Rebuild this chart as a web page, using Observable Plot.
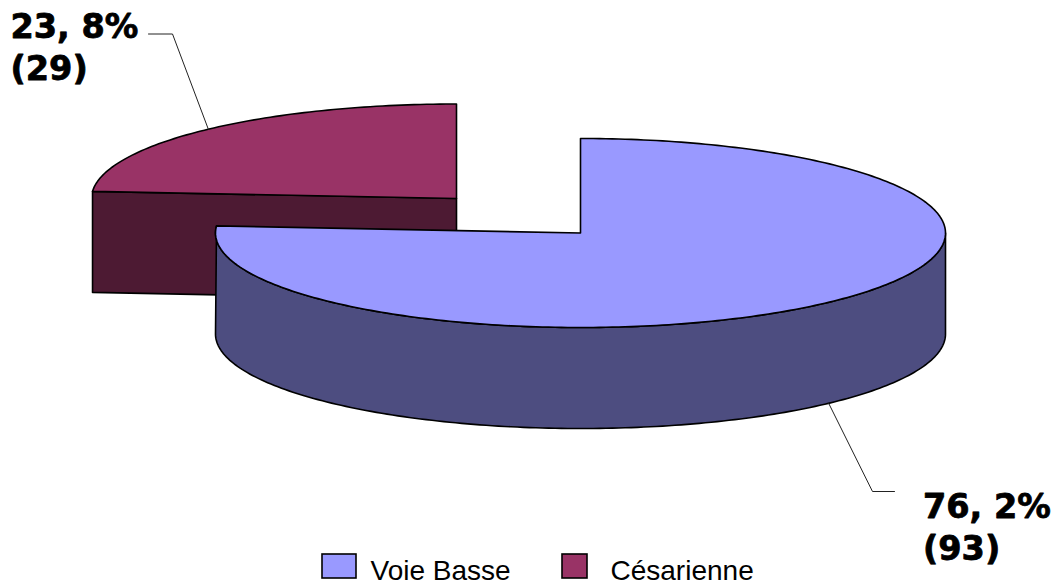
<!DOCTYPE html>
<html>
<head>
<meta charset="utf-8">
<script src="https://cdn.jsdelivr.net/npm/d3@7"></script>
<script src="https://cdn.jsdelivr.net/npm/@observablehq/plot@0.6"></script>
<style>
  html, body { margin: 0; padding: 0; background: #fff; }
  svg { display: block; }
</style>
</head>
<body>
<div id="chart"></div>
<script>
// Delivery mode shares and counts
const categories = ["Voie Basse", "Césarienne"];
const percents = [76.2, 23.8];
const counts = [93, 29];
const topColors = ["#9999ff", "#993366"];
const wallColors = ["#4d4d80", "#4d1a33"];

// Pie layout: each slice is exploded around its own centre
const rx = 365, ry = 94.5, depth = 101;
const centers = [[580, 232.5], [456, 198]];
const leaderBends = [[[872, 491], [894, 491]], [[172, 33.5], [148, 33.5]]];
const labelAnchors = [[922.5, 517], [10, 37]];
const labelLeading = 42;
const swatches = [[322, 356], [562, 587]];
const legendText = [370, 610];

const sweep = percents.map((p) => (p / 100) * 360);
// Slice angular ranges, in degrees clockwise from twelve o'clock
const ranges = [[0, sweep[0]], [360 - sweep[1], 360]];

const onRim = (i, deg, drop = 0) => {
  const a = (deg * Math.PI) / 180;
  return {
    category: categories[i],
    x: centers[i][0] + rx * Math.sin(a),
    y: centers[i][1] - ry * Math.cos(a) + drop
  };
};

const arc = (i, from, to, drop = 0) =>
  d3.range(from, to, 1).concat(to).map((d) => onRim(i, d, drop));

const apex = (i, drop = 0) => ({category: categories[i], x: centers[i][0], y: centers[i][1] + drop});

// Top faces: apex to arc and back
const topFace = (i) => [apex(i), ...arc(i, ...ranges[i]), apex(i)];

// Red inner cut wall, running down from the radius at the slice start
const redStart = onRim(1, ranges[1][0]);
const redWall = [
  redStart,
  apex(1),
  apex(1, depth),
  onRim(1, ranges[1][0], depth),
  redStart
];

// Blue outer rim: the lower edge stops at nine o'clock so the left side stays straight
const blueRim = [
  ...arc(0, 90, ranges[0][1]),
  ...arc(0, 90, 270, depth).reverse(),
  onRim(0, 90)
];

// Leader lines start on the rim at the middle of each slice
const leaders = [
  [onRim(0, (ranges[0][0] + ranges[0][1]) / 2, depth), ...leaderBends[0].map(([x, y]) => ({x, y}))],
  [onRim(1, (ranges[1][0] + ranges[1][1]) / 2), ...leaderBends[1].map(([x, y]) => ({x, y}))]
];

const labelRows = categories.flatMap((c, i) => [
  {x: labelAnchors[i][0], y: labelAnchors[i][1], text: `${String(percents[i]).replace(".", ", ")}%`},
  {x: labelAnchors[i][0], y: labelAnchors[i][1] + labelLeading, text: `(${counts[i]})`}
]);

const legendRows = categories.map((c, i) => ({
  category: c, x1: swatches[i][0], x2: swatches[i][1], tx: legendText[i]
}));

const outline = {x: "x", y: "y", stroke: "black", strokeWidth: 1.6, curve: "linear"};

const chart = Plot.plot({
  width: 1058,
  height: 582,
  margin: 0,
  style: {background: "#fff"},
  x: {domain: [0, 1058], range: [0, 1058], axis: null},
  y: {domain: [0, 582], range: [0, 582], axis: null},
  color: {domain: categories, range: topColors},
  marks: [
    Plot.line(redWall, {...outline, fill: wallColors[1]}),
    Plot.line(topFace(1), {...outline, fill: "category"}),
    Plot.line(blueRim, {...outline, fill: wallColors[0]}),
    Plot.line(topFace(0), {...outline, fill: "category"}),
    ...leaders.map((pts) => Plot.line(pts, {x: "x", y: "y", stroke: "#222", strokeWidth: 1, curve: "linear"})),
    Plot.text(labelRows, {
      x: "x", y: "y", text: "text", textAnchor: "start", lineAnchor: "bottom",
      fontFamily: "DejaVu Sans", fontWeight: "bold", fontSize: 33.5,
      fill: "black", stroke: "black", strokeWidth: 0.8
    }),
    Plot.rect(legendRows, {
      x1: "x1", x2: "x2", y1: () => 554, y2: () => 578,
      fill: "category", stroke: "black", strokeWidth: 1.6
    }),
    Plot.text(legendRows, {
      x: "tx", y: () => 579, text: "category", textAnchor: "start", lineAnchor: "bottom",
      fontFamily: "Liberation Sans", fontSize: 28, fill: "black"
    })
  ]
});
document.getElementById("chart").append(chart);
</script>
</body>
</html>
